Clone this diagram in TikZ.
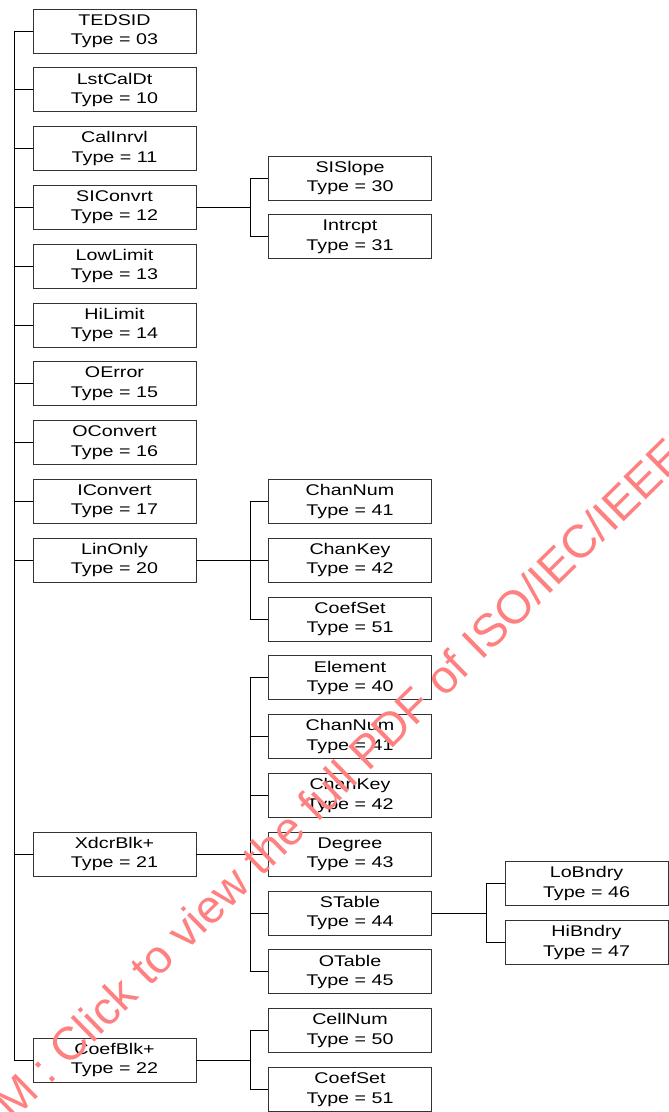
\documentclass[tikz,border=0pt]{standalone}
\usepackage{fontspec}
\setmainfont[FakeStretch=1.27]{Liberation Sans}
\newfontfamily\wmfont{Liberation Sans}
\definecolor{wmred}{RGB}{255,128,128}
\begin{document}
\begin{tikzpicture}[x=1pt,y=-1pt,
  tbox/.style={draw=black!80,line width=0.9pt,minimum width=163pt,minimum height=44pt,inner sep=0pt,align=center,
    font=\fontsize{15.5}{19.5}\selectfont},
  conn/.style={line width=1pt,black}]
\useasboundingbox (0,0) rectangle (669,1112);
\def\rowy#1{31+58.8*#1}
% column 1
\node[tbox] (tedsid)   at (114.5,{\rowy{0}})   {TEDSID\\Type = 03};
\node[tbox] (lstcaldt) at (114.5,{\rowy{1}})   {LstCalDt\\Type = 10};
\node[tbox] (calinrvl) at (114.5,{\rowy{2}})   {CalInrvl\\Type = 11};
\node[tbox] (siconvrt) at (114.5,{\rowy{3}})   {SIConvrt\\Type = 12};
\node[tbox] (lowlimit) at (114.5,{\rowy{4}})   {LowLimit\\Type = 13};
\node[tbox] (hilimit)  at (114.5,{\rowy{5}})   {HiLimit\\Type = 14};
\node[tbox] (oerror)   at (114.5,{\rowy{6}})   {OError\\Type = 15};
\node[tbox] (oconvert) at (114.5,{\rowy{7}})   {OConvert\\Type = 16};
\node[tbox] (iconvert) at (114.5,{\rowy{8}})   {IConvert\\Type = 17};
\node[tbox] (linonly)  at (114.5,{\rowy{9}})   {LinOnly\\Type = 20};
\node[tbox] (xdcrblk)  at (114.5,{\rowy{14}})  {XdcrBlk+\\Type = 21};
\node[tbox] (coefblk)  at (114.5,{\rowy{17.5}}) {CoefBlk+\\Type = 22};
% column 2
\node[tbox] (sislope)  at (350,{\rowy{2.5}}) {SISlope\\Type = 30};
\node[tbox] (intrcpt)  at (350,{\rowy{3.5}}) {Intrcpt\\Type = 31};
\node[tbox] (chnumA)   at (350,{\rowy{8}})   {ChanNum\\Type = 41};
\node[tbox] (chkeyA)   at (350,{\rowy{9}})   {ChanKey\\Type = 42};
\node[tbox] (cfsetA)   at (350,{\rowy{10}})  {CoefSet\\Type = 51};
\node[tbox] (element)  at (350,{\rowy{11}})  {Element\\Type = 40};
\node[tbox] (chnumB)   at (350,{\rowy{12}})  {ChanNum\\Type = 41};
\node[tbox] (chkeyB)   at (350,{\rowy{13}})  {ChanKey\\Type = 42};
\node[tbox] (degree)   at (350,{\rowy{14}})  {Degree\\Type = 43};
\node[tbox] (stable)   at (350,{\rowy{15}})  {STable\\Type = 44};
\node[tbox] (otable)   at (350,{\rowy{16}})  {OTable\\Type = 45};
\node[tbox] (cellnum)  at (350,{\rowy{17}})  {CellNum\\Type = 50};
\node[tbox] (cfsetB)   at (350,{\rowy{18}})  {CoefSet\\Type = 51};
% column 3
\node[tbox] (lobndry)  at (586.5,{\rowy{14.5}}) {LoBndry\\Type = 46};
\node[tbox] (hibndry)  at (586.5,{\rowy{15.5}}) {HiBndry\\Type = 47};
% trunk
\draw[conn] (tedsid.west) -- ++(-18,0) |- (coefblk.west);
\foreach \n in {lstcaldt,calinrvl,siconvrt,lowlimit,hilimit,oerror,oconvert,iconvert,linonly,xdcrblk}
  \draw[conn] (\n.west) -- ++(-18,0);
% SIConvrt children
\draw[conn] (siconvrt.east) -- ++(54,0);
\draw[conn] (sislope.west) -- ++(-18,0) |- (intrcpt.west);
% LinOnly children
\draw[conn] (linonly.east) -- (chkeyA.west);
\draw[conn] (chnumA.west) -- ++(-18,0) |- (cfsetA.west);
% XdcrBlk+ children
\draw[conn] (xdcrblk.east) -- (degree.west);
\draw[conn] (element.west) -- ++(-18,0) |- (otable.west);
\foreach \n in {chnumB,chkeyB,stable}
  \draw[conn] (\n.west) -- ++(-18,0);
% STable children
\draw[conn] (stable.east) -- ++(55,0);
\draw[conn] (lobndry.west) -- ++(-18,0) |- (hibndry.west);
% CoefBlk+ children
\draw[conn] (coefblk.east) -- ++(54,0);
\draw[conn] (cellnum.west) -- ++(-18,0) |- (cfsetB.west);
% watermark
\begin{scope}
\clip (0,0) rectangle (669,1112);
\node[anchor=base west,rotate=44.5,text=wmred,inner sep=0pt,font=\wmfont\fontsize{46.5}{46.5}\selectfont]
  (wm) at (13,1122) {M : Click to view the full PDF of ISO/IEC/IEEE};
\end{scope}
\end{tikzpicture}
\end{document}
